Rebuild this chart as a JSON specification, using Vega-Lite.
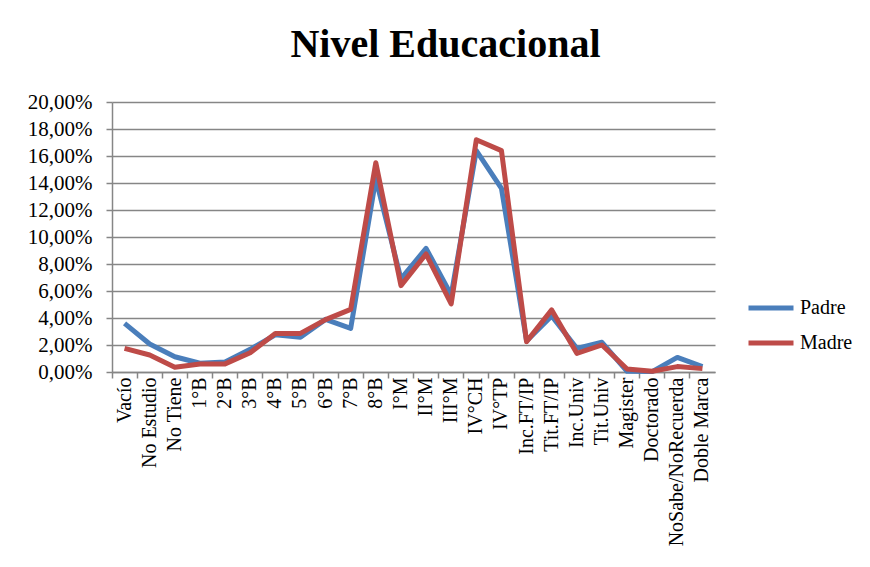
{
  "$schema": "https://vega.github.io/schema/vega-lite/v6.json",
  "autosize": "none",
  "width": 603,
  "height": 270,
  "padding": {"left": 112, "top": 102, "right": 155, "bottom": 195},
  "background": "white",
  "config": {
    "font": "Liberation Serif",
    "view": {"stroke": null}
  },
  "title": {
    "text": "Nivel Educacional",
    "font": "Liberation Serif",
    "fontSize": 40,
    "fontWeight": "bold",
    "color": "black",
    "anchor": "middle",
    "dx": 32,
    "offset": 26
  },
  "data": {
    "values": [
      {"cat": "Vacío", "serie": "Padre", "v": 0.036},
      {"cat": "No Estudio", "serie": "Padre", "v": 0.0207},
      {"cat": "No Tiene", "serie": "Padre", "v": 0.0113},
      {"cat": "1°B", "serie": "Padre", "v": 0.0065},
      {"cat": "2°B", "serie": "Padre", "v": 0.0075},
      {"cat": "3°B", "serie": "Padre", "v": 0.0168},
      {"cat": "4°B", "serie": "Padre", "v": 0.0275},
      {"cat": "5°B", "serie": "Padre", "v": 0.0257},
      {"cat": "6°B", "serie": "Padre", "v": 0.039},
      {"cat": "7°B", "serie": "Padre", "v": 0.0323},
      {"cat": "8°B", "serie": "Padre", "v": 0.143},
      {"cat": "I°M", "serie": "Padre", "v": 0.069},
      {"cat": "II°M", "serie": "Padre", "v": 0.0916},
      {"cat": "III°M", "serie": "Padre", "v": 0.057},
      {"cat": "IV°CH", "serie": "Padre", "v": 0.164},
      {"cat": "IV°TP", "serie": "Padre", "v": 0.136},
      {"cat": "Inc.FT/IP", "serie": "Padre", "v": 0.023},
      {"cat": "Tit.FT/IP", "serie": "Padre", "v": 0.0415},
      {"cat": "Inc.Univ", "serie": "Padre", "v": 0.0175},
      {"cat": "Tit.Univ", "serie": "Padre", "v": 0.022},
      {"cat": "Magister", "serie": "Padre", "v": 0.0005},
      {"cat": "Doctorado", "serie": "Padre", "v": 0.0003},
      {"cat": "NoSabe/NoRecuerda", "serie": "Padre", "v": 0.0108},
      {"cat": "Doble Marca", "serie": "Padre", "v": 0.004},
      {"cat": "Vacío", "serie": "Madre", "v": 0.0175},
      {"cat": "No Estudio", "serie": "Madre", "v": 0.0126},
      {"cat": "No Tiene", "serie": "Madre", "v": 0.0035},
      {"cat": "1°B", "serie": "Madre", "v": 0.006},
      {"cat": "2°B", "serie": "Madre", "v": 0.006},
      {"cat": "3°B", "serie": "Madre", "v": 0.0143},
      {"cat": "4°B", "serie": "Madre", "v": 0.0285},
      {"cat": "5°B", "serie": "Madre", "v": 0.0286},
      {"cat": "6°B", "serie": "Madre", "v": 0.0388},
      {"cat": "7°B", "serie": "Madre", "v": 0.0464},
      {"cat": "8°B", "serie": "Madre", "v": 0.155},
      {"cat": "I°M", "serie": "Madre", "v": 0.064},
      {"cat": "II°M", "serie": "Madre", "v": 0.0874},
      {"cat": "III°M", "serie": "Madre", "v": 0.0504},
      {"cat": "IV°CH", "serie": "Madre", "v": 0.172},
      {"cat": "IV°TP", "serie": "Madre", "v": 0.164},
      {"cat": "Inc.FT/IP", "serie": "Madre", "v": 0.0225},
      {"cat": "Tit.FT/IP", "serie": "Madre", "v": 0.046},
      {"cat": "Inc.Univ", "serie": "Madre", "v": 0.0138},
      {"cat": "Tit.Univ", "serie": "Madre", "v": 0.02},
      {"cat": "Magister", "serie": "Madre", "v": 0.0022},
      {"cat": "Doctorado", "serie": "Madre", "v": 0.0005},
      {"cat": "NoSabe/NoRecuerda", "serie": "Madre", "v": 0.004},
      {"cat": "Doble Marca", "serie": "Madre", "v": 0.0025}
    ]
  },
  "encoding": {
    "y": {
      "field": "v",
      "type": "quantitative",
      "scale": {"domain": [0, 0.2], "nice": false},
      "axis": {
        "title": null,
        "values": [0, 0.02, 0.04, 0.06, 0.08, 0.1, 0.12, 0.14, 0.16, 0.18, 0.2],
        "labelExpr": "replace(format(datum.value, '.2%'), '.', ',')",
        "labelFont": "Liberation Serif",
        "labelFontSize": 21,
        "labelColor": "black",
        "labelPadding": 14,
        "labelOverlap": false,
        "tickSize": 6,
        "tickColor": "#868686",
        "tickWidth": 1.5,
        "domainColor": "#868686",
        "domainWidth": 1.5,
        "grid": true,
        "gridColor": "#868686",
        "gridWidth": 1.5
      }
    }
  },
  "layer": [
    {
      "mark": {"type": "line", "strokeWidth": 5, "strokeJoin": "round"},
      "encoding": {
        "x": {
          "field": "cat",
          "type": "ordinal",
          "sort": null,
          "scale": {"type": "band", "paddingInner": 0, "paddingOuter": 0},
          "axis": {
            "title": null,
            "orient": "bottom",
            "labelAngle": -90,
            "labelFont": "Liberation Serif",
            "labelFontSize": 20,
            "labelColor": "black",
            "labelPadding": 5,
            "labelOverlap": false,
            "ticks": false,
            "domain": true,
            "domainColor": "#868686",
            "domainWidth": 1.5,
            "grid": false
          }
        },
        "color": {
          "field": "serie",
          "type": "nominal",
          "sort": ["Padre", "Madre"],
          "scale": {"domain": ["Padre", "Madre"], "range": ["#4A7EBB", "#BE4B48"]},
          "legend": {
            "title": null,
            "orient": "none",
            "legendX": 634,
            "legendY": 181,
            "symbolType": "stroke",
            "symbolStrokeWidth": 5,
            "symbolSize": 2025,
            "labelFont": "Liberation Serif",
            "labelFontSize": 20,
            "labelColor": "black",
            "labelOffset": 4,
            "rowPadding": -7
          }
        }
      }
    },
    {
      "mark": {"type": "line", "strokeOpacity": 0},
      "encoding": {
        "x": {
          "field": "cat",
          "type": "ordinal",
          "sort": null,
          "axis": {
            "title": null,
            "orient": "bottom",
            "labels": false,
            "domain": false,
            "ticks": true,
            "bandPosition": 0,
            "tickSize": 6,
            "tickColor": "#868686",
            "tickWidth": 1.5,
            "grid": false
          }
        },
        "detail": {"field": "serie"}
      }
    }
  ],
  "resolve": {"axis": {"x": "independent", "y": "shared"}}
}
